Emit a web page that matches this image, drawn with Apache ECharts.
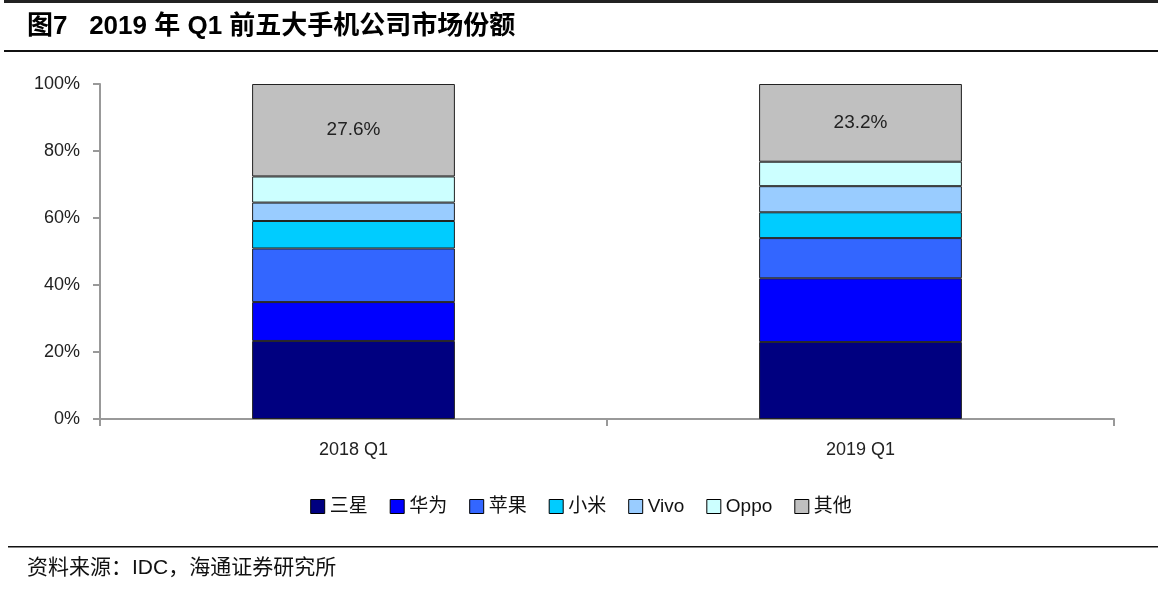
<!DOCTYPE html>
<html><head><meta charset="utf-8">
<script src="https://cdn.jsdelivr.net/npm/echarts@6/dist/echarts.min.js"></script>
<style>html,body{margin:0;padding:0;background:#fff}#c{width:1162px;height:593px}</style>
</head><body><div id="c"></div>
<script>
const categories = ['2018 Q1', '2019 Q1'];
const seriesNames = ['三星', '华为', '苹果', '小米', 'Vivo', 'Oppo', '其他'];
const samsung = [23.3, 23.0];
const huawei = [11.6, 19.0];
const apple = [16.0, 12.0];
const xiaomi = [8.2, 7.7];
const vivo = [5.5, 7.8];
const oppo = [7.8, 7.3];
const others = [27.6, 23.2];
const yTicks = [0, 20, 40, 60, 80, 100];
const colors = ['#000080', '#0000FF', '#3366FF', '#00CCFF', '#99CCFF', '#CCFFFF', '#C0C0C0'];
const values = [samsung, huawei, apple, xiaomi, vivo, oppo, others];

const font = 'Liberation Sans, Arial, Noto Sans CJK SC, sans-serif';
const chart = echarts.init(document.getElementById('c'));
chart.setOption({
  animation: false,
  color: colors,
  textStyle: { fontFamily: font },
  grid: { left: 100, right: 48, top: 84, bottom: 174 },
  legend: {
    top: 492, left: 'center',
    itemWidth: 14, itemHeight: 14, itemGap: 22,
    textStyle: { fontSize: 19, color: '#111', fontFamily: font },
    data: seriesNames.map((n) => ({ name: n, icon: 'rect', itemStyle: { borderColor: '#000', borderWidth: 1 } }))
  },
  xAxis: {
    type: 'category', data: categories,
    axisLine: { lineStyle: { color: '#999', width: 2 } },
    axisTick: { show: true, length: 7, lineStyle: { color: '#999', width: 2 } },
    axisLabel: { fontSize: 18, color: '#222', margin: 22 }
  },
  yAxis: {
    type: 'value', min: 0, max: 100, interval: 20,
    axisLine: { show: true, lineStyle: { color: '#999', width: 2 } },
    axisTick: { show: true, length: 7, lineStyle: { color: '#999', width: 2 } },
    splitLine: { show: false },
    axisLabel: { fontSize: 18, color: '#222', margin: 20, formatter: (v) => yTicks.includes(v) ? v + '%' : '' }
  },
  series: seriesNames.map((n, i) => ({
    name: n, type: 'bar', stack: 'total', barWidth: '40%',
    data: values[i],
    itemStyle: { color: colors[i], borderColor: '#222', borderWidth: 1 },
    label: i === 6 ? { show: true, position: 'inside', fontSize: 19, color: '#222', formatter: (p) => p.value.toFixed(1) + '%' } : { show: false }
  })),
  graphic: [
    { type: 'rect', shape: { x: 4, y: 0, width: 1154, height: 3 }, style: { fill: '#222' } },
    { type: 'text', left: 27, top: 14, style: { text: '图7   2019 年 Q1 前五大手机公司市场份额', font: 'bold 26px ' + font, fill: '#000' } },
    { type: 'rect', shape: { x: 4, y: 50, width: 1154, height: 2 }, style: { fill: '#111' } },
    { type: 'rect', shape: { x: 8, y: 546, width: 1150, height: 1.5 }, style: { fill: '#111' } },
    { type: 'text', left: 27, top: 558, style: { text: '资料来源：IDC，海通证券研究所', font: '21px ' + font, fill: '#111' } }
  ]
});
</script></body></html>
